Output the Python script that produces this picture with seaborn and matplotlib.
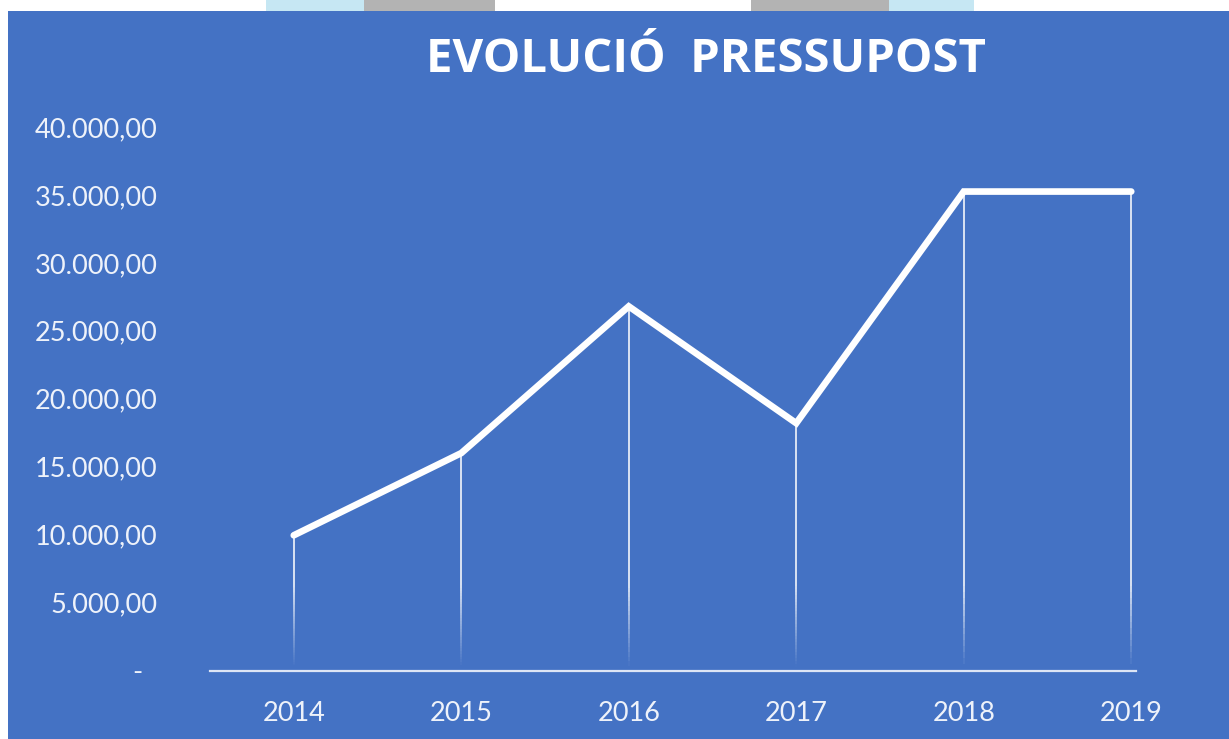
import numpy as np
import pandas as pd
import matplotlib
matplotlib.use("Agg")
import matplotlib.pyplot as plt
import seaborn as sns
from matplotlib.patches import Rectangle
from matplotlib.collections import LineCollection
from matplotlib.ticker import FuncFormatter

years = ["2014", "2015", "2016", "2017", "2018", "2019"]
budget = [9950, 16000, 26800, 18200, 35250, 35250]
yticks = [0, 5000, 10000, 15000, 20000, 25000, 30000, 35000, 40000]
title = "EVOLUCIÓ  PRESSUPOST"

BLUE = "#4472C4"
TXT = "#eef2fa"

sns.set_theme(style="white")
plt.rcParams["font.family"] = ["Lato", "DejaVu Sans"]

W, H = 1229, 739
fig = plt.figure(figsize=(W / 100, H / 100), dpi=100)
fig.patch.set_facecolor("white")

# blue panel
fig.patches.append(Rectangle((8 / W, 0), 1, (H - 11) / H, transform=fig.transFigure,
                             facecolor=BLUE, edgecolor="none", zorder=-5))
# faded background strip at the top
for x0, x1, c in [(266, 364, "#c6e7f3"), (364, 495, "#b3b3b3"),
                  (751, 889, "#b3b3b3"), (889, 974, "#c6e7f3")]:
    fig.patches.append(Rectangle((x0 / W, (H - 11) / H), (x1 - x0) / W, 11 / H,
                                 transform=fig.transFigure, facecolor=c,
                                 edgecolor="none", zorder=-5))

ax = fig.add_axes([210 / W, 68.5 / H, 1005 / W, 543.5 / H])
ax.set_facecolor("none")
ax.set_zorder(5)

df = pd.DataFrame({"year": years, "budget": budget})
df["pos"] = np.arange(len(years))

# drop lines with fading bottom
for xp, yv in zip(df["pos"], df["budget"]):
    ys = np.linspace(0, yv, 80)
    segs = [[(xp, ys[i]), (xp, ys[i + 1])] for i in range(len(ys) - 1)]
    mids = (ys[:-1] + ys[1:]) / 2
    alphas = np.clip((mids - 300) / 6000, 0, 1) * 0.8
    cols = [(1, 1, 1, a) for a in alphas]
    ax.add_collection(LineCollection(segs, colors=cols, linewidths=1.4, zorder=2))

sns.lineplot(data=df, x="pos", y="budget", ax=ax, color="white", linewidth=4.8,
             zorder=3, solid_joinstyle="miter", solid_capstyle="round")

ax.set_xlim(-0.5, 5.5)
ax.set_ylim(0, 40000)
ax.set_xticks(df["pos"])
ax.set_xticklabels(years)
ax.set_yticks(yticks)


def fmt(v, _):
    if v == 0:
        return "-  "
    s = f"{v:,.2f}"
    return s.replace(",", "X").replace(".", ",").replace("X", ".")


ax.yaxis.set_major_formatter(FuncFormatter(fmt))
ax.tick_params(axis="y", length=0, pad=38, labelsize=19.5, labelcolor=TXT)
ax.tick_params(axis="x", length=0, pad=22, labelsize=19.5, labelcolor=TXT)
ax.set_xlabel("")
ax.set_ylabel("")
ax.grid(False)
for s in ["top", "right", "left"]:
    ax.spines[s].set_visible(False)
ax.spines["bottom"].set_color("#dde5f5")
ax.spines["bottom"].set_linewidth(1.6)
ax.spines["bottom"].set_bounds(-0.5, 5.03)

fig.text(706 / W, 1 - 59 / H, title, ha="center", va="center", color="white",
         fontsize=34, fontweight="bold", family=["Open Sans", "DejaVu Sans"])

fig.savefig("out.png", dpi=100, facecolor=fig.get_facecolor())
